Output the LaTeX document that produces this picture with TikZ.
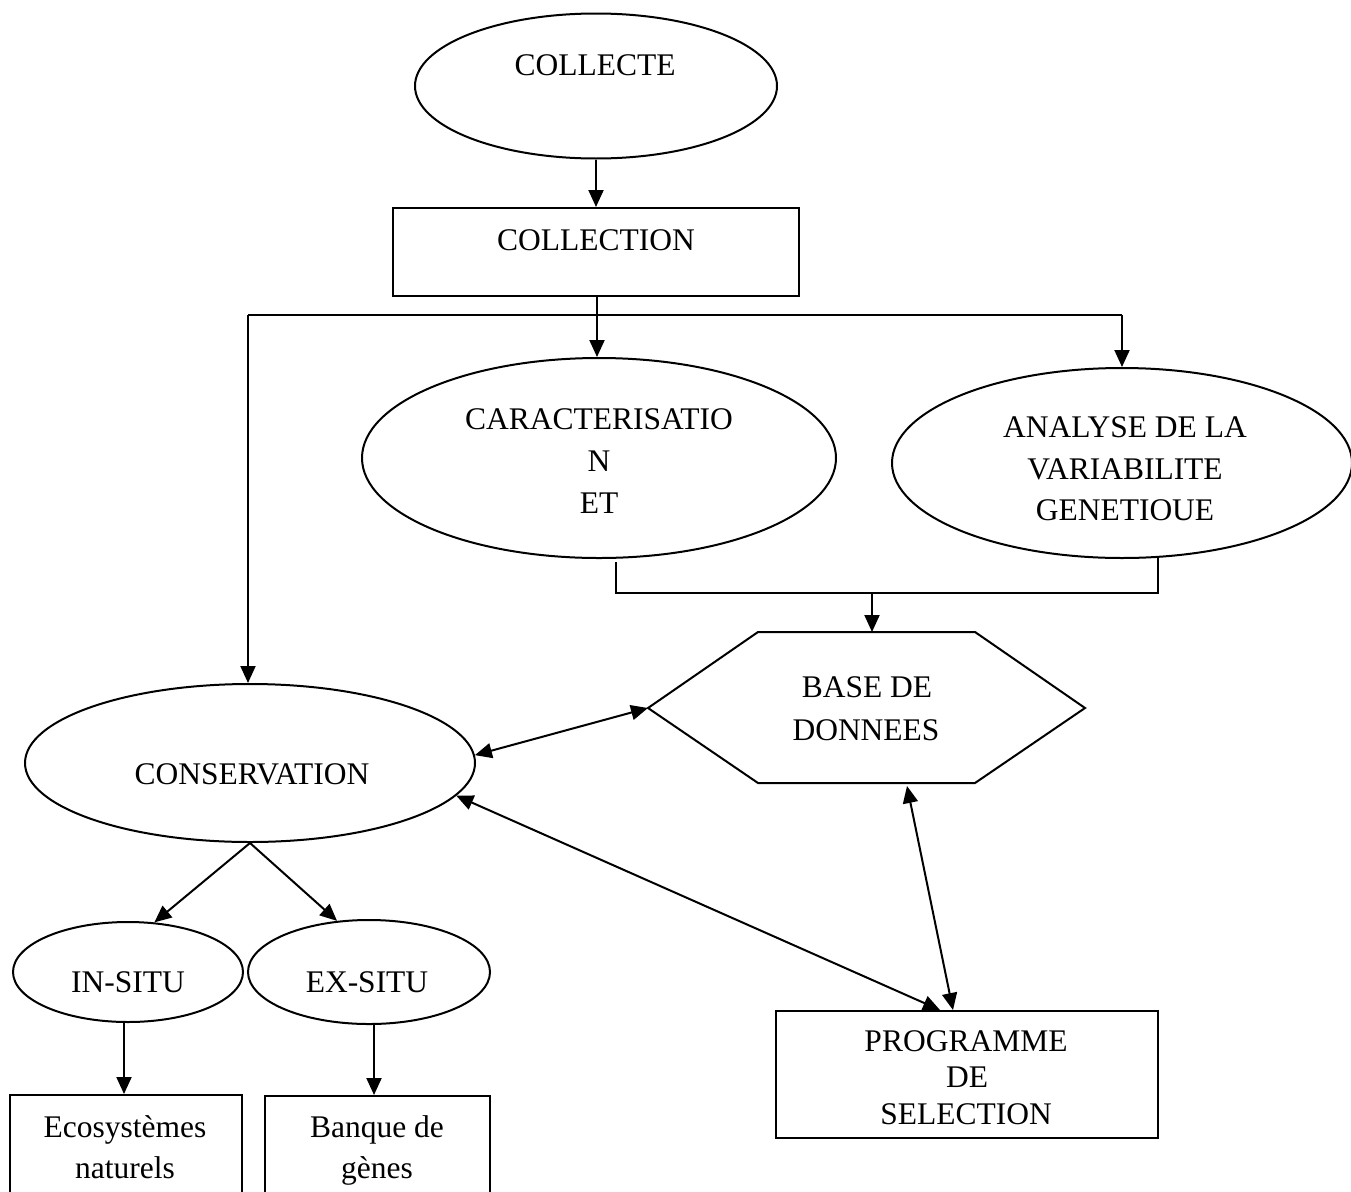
\documentclass[tikz,border=0pt]{standalone}
\usepackage{fontspec}
\setmainfont{Liberation Serif}
\usetikzlibrary{arrows.meta,shapes.geometric}
\begin{document}
\begin{tikzpicture}[x=1pt,y=-1pt, line width=2pt,
  >={Triangle[length=17pt,width=15pt]},
  ell/.style={draw, ellipse, inner sep=0pt},
  box/.style={draw, rectangle, inner sep=0pt},
  txt/.style={anchor=base, inner sep=0pt, font=\fontsize{31.5}{38}\selectfont}]
\useasboundingbox (0,0) rectangle (1351,1191);
\clip (0,0) rectangle (1351,1191);

% shapes
\node[ell, minimum width=362pt, minimum height=145pt] (col) at (596,86) {};
\node[box, minimum width=406pt, minimum height=88pt] (coll) at (596,252) {};
\node[ell, minimum width=474pt, minimum height=200pt] (car) at (599,458) {};
\node[ell, minimum width=460pt, minimum height=190pt] (ana) at (1122,463) {};
\node[ell, minimum width=450pt, minimum height=158pt] (cons) at (250,763) {};
\node[ell, minimum width=230pt, minimum height=100pt] (ins) at (128,972) {};
\node[ell, minimum width=242pt, minimum height=104pt] (exs) at (369,972) {};
\node[box, minimum width=382pt, minimum height=127pt] (prog) at (967,1074.5) {};
\node[box, minimum width=232pt, minimum height=130pt] (eco) at (126,1160) {};
\node[box, minimum width=225pt, minimum height=130pt] (banq) at (377.5,1161) {};

\coordinate (hw) at (648,708);
\coordinate (htl) at (758,632);
\coordinate (htr) at (975,632);
\coordinate (he) at (1085,708);
\coordinate (hbr) at (975,783);
\coordinate (hbl) at (758,783);
\draw (hw) -- (htl) -- (htr) -- (he) -- (hbr) -- (hbl) -- cycle;

% texts
\node[txt] (tcol) at (595,75) {COLLECTE};
\node[txt] (tcoll) at (596,250) {COLLECTION};
\node[txt] (tcar1) at (599,429) {CARACTERISATIO};
\node[txt] (tcar2) at (599,471) {N};
\node[txt] (tcar3) at (599,513) {ET};
\node[txt] (tana1) at (1125,437) {ANALYSE DE LA};
\node[txt] (tana2) at (1125,479) {VARIABILITE};
\node[txt] (tana3) at (1125,520) {GENETIOUE};
\node[txt] (tbase1) at (867,697) {BASE DE};
\node[txt] (tbase2) at (866,740) {DONNEES};
\node[txt] (tcons) at (252,784) {CONSERVATION};
\node[txt] (tins) at (128,992) {IN-SITU};
\node[txt] (texs) at (367,992) {EX-SITU};
\node[txt] (teco1) at (125,1137) {Ecosystèmes};
\node[txt] (teco2) at (125,1178) {naturels};
\node[txt] (tbanq1) at (377,1137) {Banque de};
\node[txt] (tbanq2) at (377,1178) {gènes};
\node[txt] (tprog1) at (966,1051) {PROGRAMME};
\node[txt] (tprog2) at (967,1087) {DE};
\node[txt] (tprog3) at (966,1124) {SELECTION};

% connectors
\draw[->] (col.south) -- (coll.north);
\coordinate (jt) at (597,315);
\coordinate (jl) at (248,315);
\coordinate (jr) at (1122,315);
\draw (jt |- coll.south) -- (jt);
\draw (jl) -- (jr);
\draw[->] (jl) -- (jl |- cons.north);
\draw[->] (jt) -- (jt |- car.north);
\draw[->] (jr) -- (ana.north);

\coordinate (bl) at (616,562);
\coordinate (blb) at (616,593);
\coordinate (brb) at (1158,593);
\coordinate (br) at (1158,558);
\coordinate (bm) at (872,593);
\draw (bl) -- (blb) -- (brb) -- (br);
\draw[->] (bm) -- (bm |- htl);

\coordinate (hb) at (907,786);
\draw[<->] (cons.2) -- (hw);
\draw[<->] (cons.-9) -- ([xshift=-27pt]prog.north);
\draw[<->] (hb) -- ([xshift=-14pt]prog.north);

\draw[->] (cons.south) -- (ins.62);
\draw[->] (cons.south) -- (exs.122);
\draw[->] ([xshift=-4pt]ins.south) -- ([xshift=-4pt]ins.south |- eco.north);
\draw[->] ([xshift=5pt]exs.south) -- ([xshift=5pt]exs.south |- banq.north);
\end{tikzpicture}
\end{document}
